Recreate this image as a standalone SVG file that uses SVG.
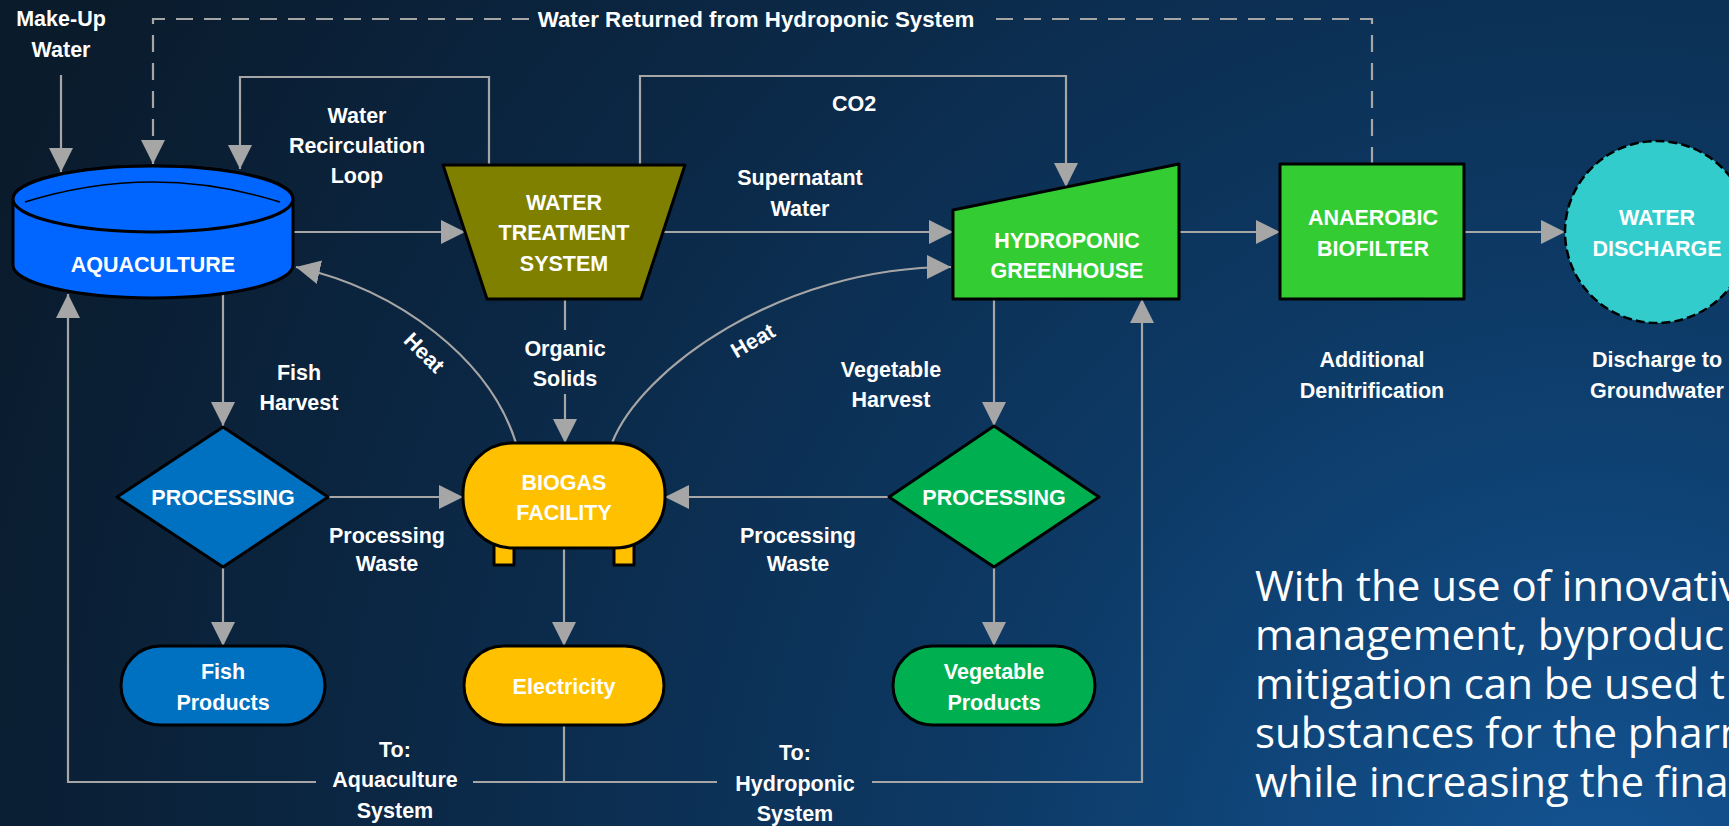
<svg xmlns="http://www.w3.org/2000/svg" width="1729" height="826" viewBox="0 0 1729 826">
<defs>
<radialGradient id="bg" cx="1600" cy="900" r="1750" gradientUnits="userSpaceOnUse">
<stop offset="0" stop-color="#135494"/>
<stop offset="0.35" stop-color="#0d3a66"/>
<stop offset="0.7" stop-color="#0b2744"/>
<stop offset="1" stop-color="#0a1b2c"/>
</radialGradient>
<marker id="ah" markerUnits="userSpaceOnUse" markerWidth="24" markerHeight="24" viewBox="0 0 24 24" refX="24" refY="12" orient="auto">
<path d="M0,0 L24,12 L0,24 Z" fill="#A6A6A6"/>
</marker>
<style>
.c{fill:none;stroke:#A6A6A6;stroke-width:2.2}
.d{fill:none;stroke:#A6A6A6;stroke-width:2.2;stroke-dasharray:17 11}
.a{marker-end:url(#ah)}
.s{stroke:#000;stroke-width:3;stroke-linejoin:round}
.t{font-family:"Liberation Sans",Arial,sans-serif;font-weight:bold;font-size:21.5px;fill:#fff;text-anchor:middle}
.p{font-family:"Open Sans","Liberation Sans",sans-serif;font-weight:400;font-size:42px;fill:#fff}
</style>
</defs>
<rect x="0" y="0" width="1729" height="826" fill="url(#bg)"/>

<g id="connectors">
<path class="c a" d="M61,75 V172"/>
<path class="d" d="M1372,164 V19 H987"/>
<path class="d a" d="M529,19 H153 V164"/>
<path class="c a" d="M489,165 V77 H240 V169"/>
<path class="c a" d="M293,232 H465"/>
<path class="c a" d="M663,232 H953"/>
<path class="c a" d="M640,165 V76 H1066 V187"/>
<path class="c a" d="M1179,232 H1280"/>
<path class="c a" d="M1464,232 H1565"/>
<path class="c a" d="M223,294 V426"/>
<path class="c" d="M565,299 V330"/>
<path class="c a" d="M565,394 V443"/>
<path class="c a" d="M516,443 C490,360 400,290 296,267"/>
<path class="c a" d="M612,443 C640,370 780,267 951,267"/>
<path class="c a" d="M994,299 V426"/>
<path class="c a" d="M328,497 H463"/>
<path class="c a" d="M889,497 H665"/>
<path class="c a" d="M223,567 V646"/>
<path class="c a" d="M564,548 V646"/>
<path class="c a" d="M994,567 V646"/>
<path class="c" d="M564,725 V782"/>
<path class="c a" d="M316,782 H68 V294"/>
<path class="c" d="M473,782 H717"/>
<path class="c a" d="M872,782 H1142 V299"/>
</g>

<g id="edge-labels" class="t">
<text x="61" y="26">Make-Up</text>
<text x="61" y="57">Water</text>
<text x="756" y="27" style="font-size:22.3px">Water Returned from Hydroponic System</text>
<text x="357" y="123">Water</text>
<text x="357" y="153">Recirculation</text>
<text x="357" y="183">Loop</text>
<text x="854" y="111">CO2</text>
<text x="800" y="185">Supernatant</text>
<text x="800" y="216">Water</text>
<text x="299" y="380">Fish</text>
<text x="299" y="410">Harvest</text>
<text transform="translate(424,353) rotate(45)" x="0" y="7">Heat</text>
<text x="565" y="356">Organic</text>
<text x="565" y="386">Solids</text>
<text transform="translate(753,341) rotate(-30)" x="0" y="7">Heat</text>
<text x="891" y="377">Vegetable</text>
<text x="891" y="407">Harvest</text>
<text x="387" y="543">Processing</text>
<text x="387" y="571">Waste</text>
<text x="798" y="543">Processing</text>
<text x="798" y="571">Waste</text>
<text x="395" y="757">To:</text>
<text x="395" y="787">Aquaculture</text>
<text x="395" y="818">System</text>
<text x="795" y="760">To:</text>
<text x="795" y="791">Hydroponic</text>
<text x="795" y="821">System</text>
<text x="1372" y="367">Additional</text>
<text x="1372" y="398">Denitrification</text>
<text x="1657" y="367">Discharge to</text>
<text x="1657" y="398">Groundwater</text>
</g>

<g id="aquaculture">
<path class="s" fill="#0066FF" d="M13,199 V265 A140,33 0 0 0 293,265 V199 A140,33 0 0 0 13,199 Z"/>
<ellipse class="s" fill="#0066FF" cx="153" cy="199" rx="140" ry="33"/>
<path d="M25,202 Q153,162 280,202" fill="none" stroke="#000" stroke-width="1.5"/>
<text class="t" x="153" y="272">AQUACULTURE</text>
</g>

<g id="water-treatment">
<path class="s" fill="#808000" d="M443,165 H685 L641,299 H487 Z"/>
<text class="t" x="564" y="210">WATER</text>
<text class="t" x="564" y="240">TREATMENT</text>
<text class="t" x="564" y="271">SYSTEM</text>
</g>

<g id="hydroponic">
<path class="s" fill="#33CC33" d="M953,210 L1179,164 V299 H953 Z"/>
<text class="t" x="1067" y="248">HYDROPONIC</text>
<text class="t" x="1067" y="278">GREENHOUSE</text>
</g>

<g id="biofilter">
<rect class="s" fill="#33CC33" x="1280" y="164" width="184" height="135"/>
<text class="t" x="1373" y="225">ANAEROBIC</text>
<text class="t" x="1373" y="256">BIOFILTER</text>
</g>

<g id="discharge">
<ellipse cx="1657" cy="232" rx="92" ry="91" fill="#33CCCC" stroke="#000" stroke-width="2.5" stroke-dasharray="9 4"/>
<text class="t" x="1657" y="225">WATER</text>
<text class="t" x="1657" y="256">DISCHARGE</text>
</g>

<g id="fish-processing">
<path class="s" fill="#0070C0" d="M223,427 L328,497 L223,567 L117,497 Z"/>
<text class="t" x="223" y="505">PROCESSING</text>
</g>

<g id="biogas">
<rect class="s" fill="#FFC000" x="494" y="538" width="20" height="27"/>
<rect class="s" fill="#FFC000" x="614" y="538" width="20" height="27"/>
<rect class="s" fill="#FFC000" x="463" y="443" width="202" height="105" rx="50" ry="50"/>
<text class="t" x="564" y="490">BIOGAS</text>
<text class="t" x="564" y="520">FACILITY</text>
</g>

<g id="veg-processing">
<path class="s" fill="#00B050" d="M994,426 L1099,497 L994,567 L889,497 Z"/>
<text class="t" x="994" y="505">PROCESSING</text>
</g>

<g id="fish-products">
<rect class="s" fill="#0070C0" x="121" y="646" width="204" height="79" rx="39.5" ry="39.5"/>
<text class="t" x="223" y="679">Fish</text>
<text class="t" x="223" y="710">Products</text>
</g>

<g id="electricity">
<rect class="s" fill="#FFC000" x="464" y="646" width="200" height="79" rx="39.5" ry="39.5"/>
<text class="t" x="564" y="694">Electricity</text>
</g>

<g id="veg-products">
<rect class="s" fill="#00B050" x="893" y="646" width="202" height="79" rx="39.5" ry="39.5"/>
<text class="t" x="994" y="679">Vegetable</text>
<text class="t" x="994" y="710">Products</text>
</g>

<g id="paragraph" class="p">
<text x="1255" y="601">With the use of innovativ</text>
<text x="1255" y="650">management, byproduc</text>
<text x="1255" y="699">mitigation can be used t</text>
<text x="1255" y="748">substances for the pharm</text>
<text x="1255" y="797">while increasing the fina</text>
</g>
</svg>
